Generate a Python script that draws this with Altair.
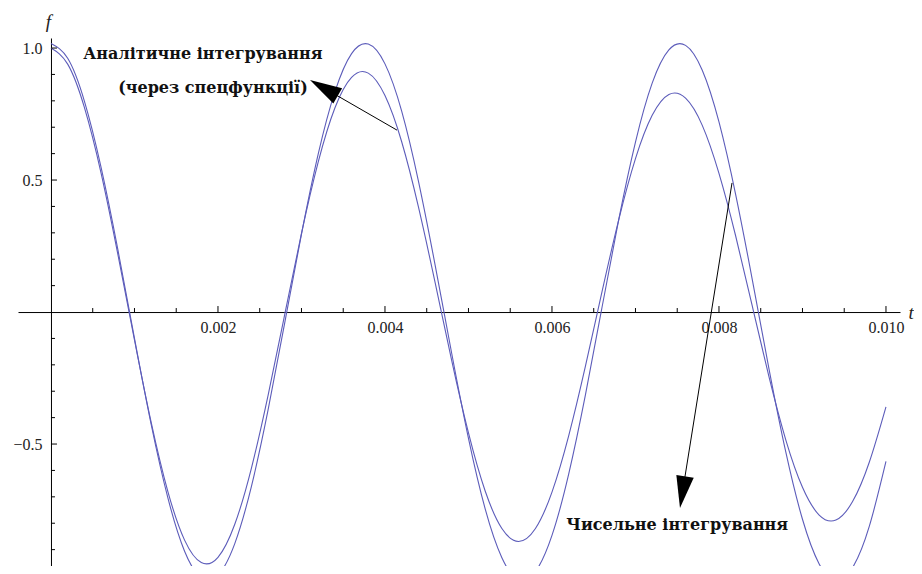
import math
import altair as alt
import pandas as pd

# ---- data ----
T = [0.0000, 0.0002, 0.0004, 0.0006, 0.0008, 0.0010, 0.0012, 0.0014, 0.0016, 0.0018,
     0.0020, 0.0022, 0.0024, 0.0026, 0.0028, 0.0030, 0.0032, 0.0034, 0.0036, 0.0038,
     0.0040, 0.0042, 0.0044, 0.0046, 0.0048, 0.0050, 0.0052, 0.0054, 0.0056, 0.0058,
     0.0060, 0.0062, 0.0064, 0.0066, 0.0068, 0.0070, 0.0072, 0.0074, 0.0076, 0.0078,
     0.0080, 0.0082, 0.0084, 0.0086, 0.0088, 0.0090, 0.0092, 0.0094, 0.0096, 0.0098,
     0.0100]
# numeric integration (constant amplitude)
F_NUMERIC = [1.017, 0.961, 0.799, 0.548, 0.238, -0.100, -0.426, -0.704, -0.906, -1.007,
             -0.997, -0.878, -0.661, -0.371, -0.040, 0.295, 0.598, 0.834, 0.979, 1.015,
             0.940, 0.761, 0.497, 0.179, -0.158, -0.479, -0.746, -0.931, -1.014, -0.984,
             -0.846, -0.614, -0.315, 0.019, 0.351, 0.644, 0.867, 0.993, 1.010, 0.916,
             0.720, 0.445, 0.121, -0.217, -0.530, -0.785, -0.954, -1.017, -0.968, -0.812,
             -0.566]
# analytic integration via special functions (decaying amplitude)
F_ANALYTIC = [1.000, 0.939, 0.775, 0.526, 0.220, -0.106, -0.418, -0.680, -0.864, -0.949,
              -0.929, -0.805, -0.592, -0.316, -0.008, 0.298, 0.568, 0.773, 0.889, 0.905,
              0.820, 0.645, 0.399, 0.112, -0.185, -0.458, -0.678, -0.820, -0.869, -0.821,
              -0.682, -0.469, -0.206, 0.078, 0.350, 0.581, 0.745, 0.824, 0.810, 0.707,
              0.525, 0.288, 0.021, -0.247, -0.484, -0.664, -0.769, -0.788, -0.718, -0.569,
              -0.359]

X_LABELS = [0.002, 0.004, 0.006, 0.008, 0.010]
X_MINOR = [0.0005, 0.0010, 0.0015, 0.0025, 0.0030, 0.0035, 0.0045, 0.0050, 0.0055,
           0.0065, 0.0070, 0.0075, 0.0085, 0.0090, 0.0095]
Y_LABELS = [-0.5, 0.5, 1.0]
Y_MINOR = [-0.9, -0.8, -0.7, -0.6, -0.4, -0.3, -0.2, -0.1, 0.1, 0.2, 0.3, 0.4,
           0.6, 0.7, 0.8, 0.9]

NOTE_TEXT = ["Аналітичне інтегрування", "(через спецфункції)", "Чисельне інтегрування"]
NOTE_T = [0.00182, 0.00194, 0.00750]
NOTE_F = [0.977, 0.848, -0.807]

ARROW_T_START = [0.004144, 0.008156]
ARROW_F_START = [0.689, 0.489]
ARROW_T_TIP = [0.003102, 0.007533]
ARROW_F_TIP = [0.879, -0.742]

T_DOMAIN = [-0.000395, 0.010168]
F_DOMAIN = [-0.962, 1.038]

# ---- layout ----
W, H = 882, 528
PAD = {"left": 10, "top": 30, "right": 14, "bottom": 0}
SX = W / (T_DOMAIN[1] - T_DOMAIN[0])
SY = H / (F_DOMAIN[1] - F_DOMAIN[0])
Y_AXIS_OFFSET = -(0 - T_DOMAIN[0]) * SX
X_AXIS_OFFSET = -(0 - F_DOMAIN[0]) * SY

LINE_COLOR = "#5c5cba"
SERIF = "Liberation Serif"
NOTE_FONT = "DejaVu Serif"

xs = alt.Scale(domain=T_DOMAIN, nice=False, zero=False)
ys = alt.Scale(domain=F_DOMAIN, nice=False, zero=False)

curve_df = pd.DataFrame(
    {"t": T * 2,
     "f": F_NUMERIC + F_ANALYTIC,
     "s": ["numeric"] * len(T) + ["analytic"] * len(T)}
)

x_axis = alt.Axis(
    orient="bottom", offset=X_AXIS_OFFSET, values=X_LABELS, format=".3f",
    ticks=False, grid=False, domain=True, domainColor="black", domainWidth=1,
    labelFont=SERIF, labelFontSize=16, labelColor="#222", labelPadding=7,
    labelFlush=False, labelOverlap=False,
    title="t", titleFont=SERIF, titleFontStyle="italic", titleFontWeight="normal",
    titleFontSize=19, titleColor="#222", titleX=W + 8, titleY=0,
    titleAlign="left", titleBaseline="middle", titleAngle=0,
)
y_axis = alt.Axis(
    orient="left", offset=Y_AXIS_OFFSET, values=Y_LABELS,
    labelExpr="replace(format(datum.value, '.1f'), '-', '\u2212')",
    ticks=False, grid=False, domain=True, domainColor="black", domainWidth=1,
    labelFont=SERIF, labelFontSize=16, labelColor="#222", labelPadding=9,
    labelFlush=False, labelOverlap=False,
    title="f", titleFont=SERIF, titleFontStyle="italic", titleFontWeight="normal",
    titleFontSize=19, titleColor="#222", titleX=-3, titleY=-17,
    titleAlign="center", titleBaseline="middle", titleAngle=0,
)

curves = alt.Chart(curve_df).mark_line(
    clip=True, interpolate="natural", color=LINE_COLOR, strokeWidth=1.1
).encode(
    x=alt.X("t:Q", scale=xs, axis=x_axis),
    y=alt.Y("f:Q", scale=ys, axis=y_axis),
    detail="s:N",
)

def xticks(vals, length):
    return alt.Chart(pd.DataFrame({"t": vals})).mark_rule(
        color="black", strokeWidth=1, y2Offset=-length
    ).encode(x=alt.X("t:Q", scale=xs), y=alt.datum(0), y2=alt.datum(0))

def yticks(vals, length):
    return alt.Chart(pd.DataFrame({"f": vals})).mark_rule(
        color="black", strokeWidth=1, x2Offset=length
    ).encode(y=alt.Y("f:Q", scale=ys), x=alt.datum(0), x2=alt.datum(0))

# arrows: head centre and angle derived from start/tip
HEAD_LEN = 32
heads = []
for ts, fs, tt, ft in zip(ARROW_T_START, ARROW_F_START, ARROW_T_TIP, ARROW_F_TIP):
    dx = (tt - ts) * SX
    dy = -(ft - fs) * SY
    L = math.hypot(dx, dy)
    ux, uy = dx / L, dy / L
    tc = tt - (HEAD_LEN / 2) * ux / SX
    fc = ft + (HEAD_LEN / 2) * uy / SY
    ang = math.degrees(math.atan2(ux, -uy)) % 360
    heads.append({"ts": ts, "fs": fs, "tc": tc, "fc": fc, "ang": ang})
arrow_df = pd.DataFrame(heads)

arrow_lines = alt.Chart(arrow_df).mark_rule(color="black", strokeWidth=1).encode(
    x=alt.X("ts:Q", scale=xs), y=alt.Y("fs:Q", scale=ys), x2="tc:Q", y2="fc:Q"
)
arrow_heads = alt.Chart(arrow_df).mark_point(
    shape="M0,-1L0.55,1L-0.55,1Z", filled=True, size=HEAD_LEN ** 2,
    color="black", opacity=1, strokeWidth=0
).encode(
    x=alt.X("tc:Q", scale=xs), y=alt.Y("fc:Q", scale=ys),
    angle=alt.Angle("ang:Q", scale=None),
)

notes = alt.Chart(pd.DataFrame({"t": NOTE_T, "f": NOTE_F, "txt": NOTE_TEXT})).mark_text(
    font=NOTE_FONT, fontWeight="bold", fontSize=16, color="#111",
    align="center", baseline="middle"
).encode(x=alt.X("t:Q", scale=xs), y=alt.Y("f:Q", scale=ys), text="txt:N")

chart = alt.layer(
    curves,
    xticks(X_LABELS, 6), xticks(X_MINOR, 4),
    yticks(Y_LABELS, 6), yticks(Y_MINOR, 4),
    arrow_lines, arrow_heads, notes,
).properties(
    width=W, height=H, padding=PAD,
    autosize=alt.AutoSizeParams(type="none"),
    background="white",
).configure_view(stroke=None)

chart.save("out.html", embed_options={"renderer": "svg", "actions": False})
